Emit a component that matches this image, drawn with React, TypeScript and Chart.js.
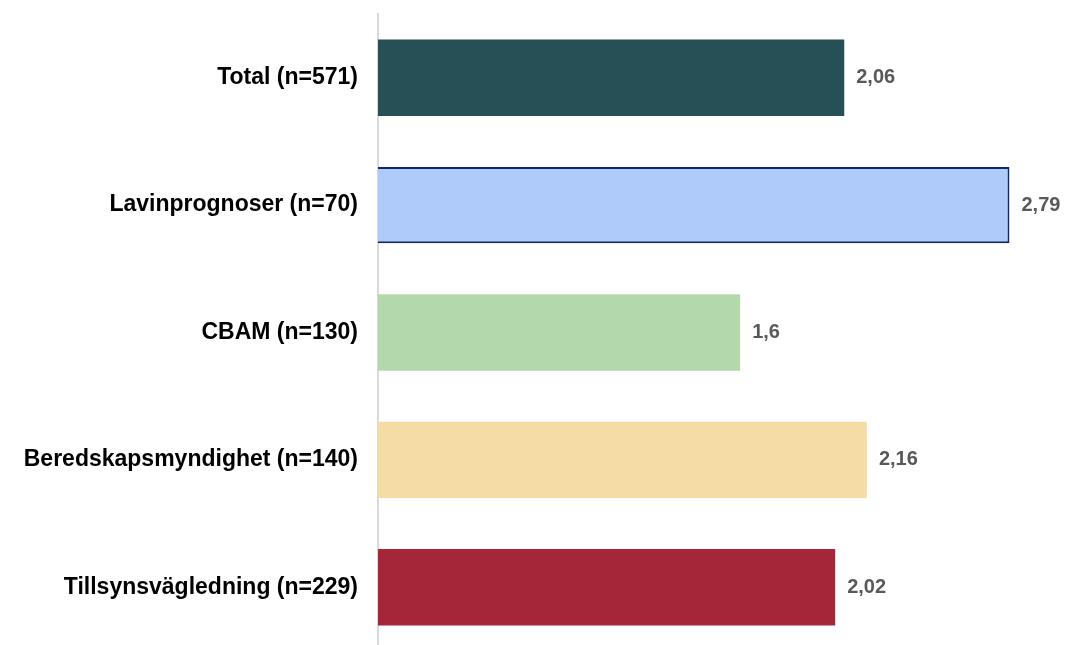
import React, { useEffect, useRef } from "react";
import { Chart, registerables } from "chart.js";

Chart.register(...registerables);

const categories = [
  "Total (n=571)",
  "Lavinprognoser (n=70)",
  "CBAM (n=130)",
  "Beredskapsmyndighet (n=140)",
  "Tillsynsvägledning (n=229)",
];
const values = [2.06, 2.79, 1.6, 2.16, 2.02];
const barColors = ["#264f56", "#aecbfa", "#b2d8ac", "#f4dca4", "#a52638"];
const barBorderColors = ["#264f56", "#0c2a6b", "#b2d8ac", "#f4dca4", "#a52638"];
const barBorderWidths = [0, 2, 0, 0, 0];
const valueLabels = ["2,06", "2,79", "1,6", "2,16", "2,02"];

const FONT = "'Liberation Sans', Arial, sans-serif";

const valueLabelPlugin = {
  id: "valueLabels",
  afterDatasetsDraw(chart: any) {
    const ctx = chart.ctx;
    const meta = chart.getDatasetMeta(0);
    ctx.save();
    ctx.font = `bold 20px ${FONT}`;
    ctx.fillStyle = "#595959";
    ctx.textAlign = "left";
    ctx.textBaseline = "middle";
    meta.data.forEach((bar: any, i: number) => {
      ctx.fillText(valueLabels[i], bar.x + 12, bar.y);
    });
    ctx.restore();
  },
};

export default function App() {
  const ref = useRef<HTMLCanvasElement>(null);
  useEffect(() => {
    if (!ref.current) return;
    const chart = new Chart(ref.current, {
      type: "bar",
      data: {
        labels: categories,
        datasets: [
          {
            data: values,
            backgroundColor: barColors,
            borderColor: barBorderColors,
            borderWidth: barBorderWidths,
            categoryPercentage: 0.6,
            barPercentage: 1,
          },
        ],
      },
      options: {
        indexAxis: "y",
        animation: false,
        responsive: true,
        maintainAspectRatio: false,
        layout: { padding: { top: 6, bottom: 7, right: 9, left: 0 } },
        plugins: {
          legend: { display: false },
          tooltip: { enabled: false },
        },
        scales: {
          x: {
            min: 0,
            max: 3,
            display: false,
          },
          y: {
            grid: { display: false, drawTicks: false },
            border: { display: true, color: "#d9d9d9", width: 2 },
            ticks: {
              color: "#000000",
              font: { family: FONT, size: 23, weight: "bold" },
              padding: 20,
            },
            afterFit: (scale: any) => {
              scale.paddingTop = 0;
              scale.paddingBottom = 0;
              scale.width = 370;
            },
          },
        },
      },
      plugins: [valueLabelPlugin],
    });
    return () => chart.destroy();
  }, []);
  return (
    <div
      style={{
        position: "fixed",
        top: 8,
        left: 8,
        width: 1058,
        height: 650,
        overflow: "hidden",
      }}
    >
      <canvas ref={ref} />
    </div>
  );
}
